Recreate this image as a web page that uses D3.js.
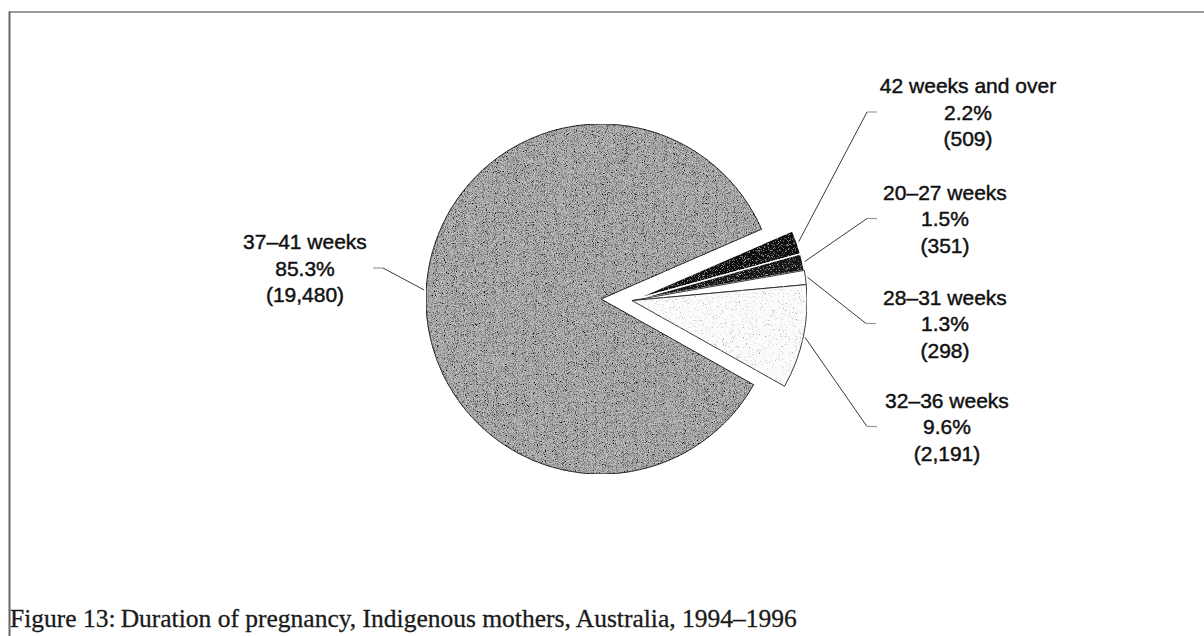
<!DOCTYPE html>
<html>
<head>
<meta charset="utf-8">
<script src="https://cdn.jsdelivr.net/npm/d3@7"></script>
<style>
  body { margin: 0; background: #fff; }
  .lbl { font-family: "Liberation Sans", Arial, sans-serif; font-size: 21px; fill: #111; stroke: #111; stroke-width: 0.45px; }
  .title { font-family: "Liberation Serif", "Times New Roman", serif; font-size: 25.5px; fill: #1a1a1a; stroke: #1a1a1a; stroke-width: 0.3px; }
</style>
</head>
<body>
<div class="pie-chart"></div>
<script>
// Duration of pregnancy, Indigenous mothers, Australia, 1994-1996
const categories = ["42 weeks and over", "20–27 weeks", "28–31 weeks", "32–36 weeks", "37–41 weeks"];
const births = [509, 351, 298, 2191, 19480];
const percents = ["2.2%", "1.5%", "1.3%", "9.6%", "85.3%"];
const countLabels = ["(509)", "(351)", "(298)", "(2,191)", "(19,480)"];
const titleText = "Figure 13:\u2009Duration of pregnancy, Indigenous mothers, Australia, 1994–1996";

const width = 1204,
  height = 636;

const svg = d3
  .select(".pie-chart")
  .append("svg")
  .attr("width", width)
  .attr("height", height);

const cx = 601,
  cy = 299,
  radius = 175;
const explode = 31;
const startAngle = (66.5 / 180) * Math.PI;

// label blocks: centre x, middle line y, end of leader tick
const labelLayout = [
  { x: 968, y: 112, tick: 877 },
  { x: 945, y: 218.5, tick: 877 },
  { x: 945, y: 323.5, tick: 876 },
  { x: 947, y: 426.5, tick: 877 },
  { x: 305, y: 268, tick: 373 },
];
const lineGap = 26.5;

const fills = ["#0e0e0e", "#121212", "#fff", "#fbfbfb", "#bcbcbc"];
const grains = ["grain-light", "grain-light", null, "grain-sparse", "grain-dark"];

// ---- textures
const defs = svg.append("defs");

function grainFilter(id, freq, seed, rgb, a, b) {
  const f = defs
    .append("filter")
    .attr("id", id)
    .attr("x", "0")
    .attr("y", "0")
    .attr("width", "100%")
    .attr("height", "100%");
  f.append("feTurbulence")
    .attr("type", "fractalNoise")
    .attr("baseFrequency", freq)
    .attr("numOctaves", 2)
    .attr("seed", seed)
    .attr("result", "noise");
  f.append("feColorMatrix")
    .attr("in", "noise")
    .attr("type", "matrix")
    .attr(
      "values",
      `0 0 0 0 ${rgb}  0 0 0 0 ${rgb}  0 0 0 0 ${rgb}  ${a} 0 0 0 ${b}`
    )
    .attr("result", "dots");
  f.append("feComposite")
    .attr("in", "dots")
    .attr("in2", "SourceAlpha")
    .attr("operator", "in")
    .attr("result", "clipped");
  const m = f.append("feMerge");
  m.append("feMergeNode").attr("in", "SourceGraphic");
  m.append("feMergeNode").attr("in", "clipped");
}
grainFilter("grain-dark", 1.1, 4, 0, 2.6, -1.05);
grainFilter("grain-light", 1.2, 7, 1, 2.0, -1.15);
grainFilter("grain-sparse", 1.3, 9, 0.35, 5, -3.1);

// ---- frame
svg
  .append("line")
  .attr("x1", 9)
  .attr("x2", width)
  .attr("y1", 12)
  .attr("y2", 12)
  .style("stroke", "#7a7a7a")
  .style("stroke-width", 1.5);
svg
  .append("line")
  .attr("x1", 9.5)
  .attr("x2", 9.5)
  .attr("y1", 11.5)
  .attr("y2", height)
  .style("stroke", "#666")
  .style("stroke-width", 2);

// ---- pie
const data = categories.map((c, i) => ({
  category: c,
  value: births[i],
  pct: percents[i],
  count: countLabels[i],
  small: i < 4,
}));

const pie = d3
  .pie()
  .sort(null)
  .value((d) => d.value)
  .startAngle(startAngle)
  .endAngle(startAngle + 2 * Math.PI);

const arcs = pie(data);
const groupMid = (arcs[0].startAngle + arcs[3].endAngle) / 2;
const offset = [explode * Math.sin(groupMid), -explode * Math.cos(groupMid)];

const arc = d3.arc().innerRadius(0).outerRadius(radius);

const center = svg
  .append("g")
  .attr("transform", "translate(" + cx + "," + cy + ")");

const slices = center
  .selectAll("g.slice")
  .data(arcs)
  .enter()
  .append("g")
  .attr("class", "slice")
  .attr("transform", (d) =>
    d.data.small ? "translate(" + offset[0] + "," + offset[1] + ")" : null
  );

slices
  .append("path")
  .attr("d", arc)
  .style("fill", (d, i) => fills[i])
  .style("stroke", (d, i) => (i < 2 ? "#fff" : "#222"))
  .style("stroke-width", (d, i) => (i < 2 ? 1.5 : 0.9))
  .style("filter", (d, i) => (grains[i] ? "url(#" + grains[i] + ")" : null));

// ---- leader lines and labels
const pointAt = (angle, r) => [r * Math.sin(angle), -r * Math.cos(angle)];

arcs.forEach((d, i) => {
  const mid = (d.startAngle + d.endAngle) / 2;
  const p = pointAt(mid, radius + 2);
  const shift = d.data.small ? offset : [0, 0];
  const start = [cx + p[0] + shift[0], cy + p[1] + shift[1]];
  const L = labelLayout[i];
  const dir = L.tick > start[0] ? 1 : -1;
  const elbow = [L.tick - dir * 10, L.y];

  svg
    .append("path")
    .attr("d", d3.line()([start, elbow]))
    .style("fill", "none")
    .style("stroke", "#3a3a3a")
    .style("stroke-width", 1);
  svg
    .append("path")
    .attr("d", d3.line()([elbow, [L.tick, L.y]]))
    .style("fill", "none")
    .style("stroke", "#9a9a9a")
    .style("stroke-width", 1.2);

  const t = svg
    .append("text")
    .attr("class", "lbl")
    .attr("text-anchor", "middle");
  [d.data.category, d.data.pct, d.data.count].forEach((s, k) => {
    t.append("tspan")
      .attr("x", L.x)
      .attr("y", L.y + 7.5 + (k - 1) * lineGap)
      .text(s);
  });
});

// ---- caption
svg
  .append("text")
  .attr("class", "title")
  .attr("x", 10)
  .attr("y", 627)
  .text(titleText);
</script>
</body>
</html>
